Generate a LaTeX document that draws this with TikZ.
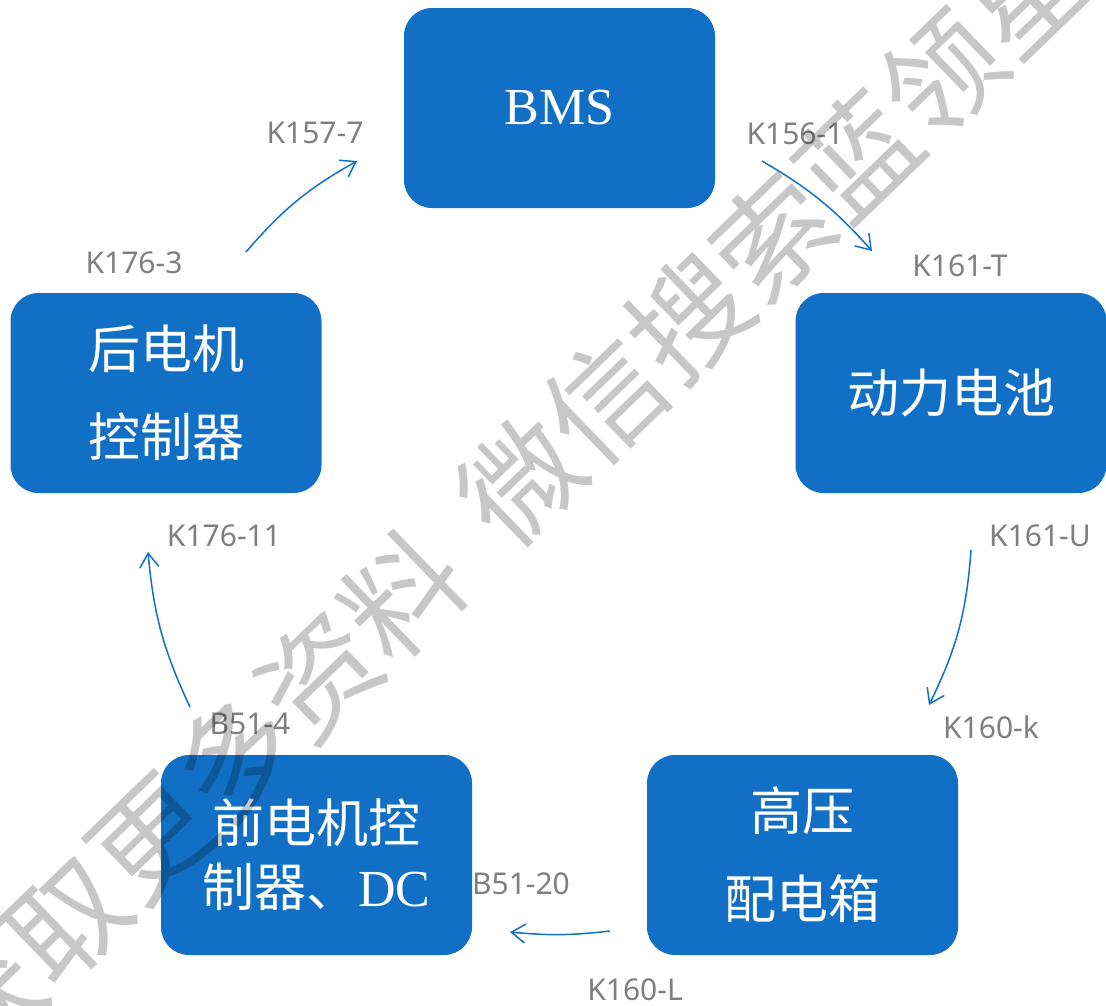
\documentclass[tikz,border=0pt]{standalone}
\usepackage{fontspec}
\setmainfont{Liberation Serif}
\newfontfamily\cjk{Noto Sans CJK SC}
\newfontfamily\labfont{Noto Sans}
\usetikzlibrary{arrows.meta}
\definecolor{boxblue}{RGB}{17,112,197}
\definecolor{labgray}{RGB}{127,127,127}
\tikzset{
  box/.style={fill=boxblue, rounded corners=28pt, minimum width=311pt, minimum height=200pt,
    text=white, align=center, inner sep=0pt, font=\cjk\fontsize{52}{88}\selectfont},
  lbl/.style={text=labgray, inner sep=0pt, font=\labfont\fontsize{30}{36}\selectfont},
  conn/.style={draw=boxblue, line width=1.5pt, -{Straight Barb[length=14pt,width=19pt]}},
  wmark/.style={rotate=44, text=black, text opacity=0.22, inner sep=0pt,
    font=\cjk\fontsize{117}{117}\selectfont}
}
\begin{document}
\begin{tikzpicture}[x=1pt,y=-1pt]
\useasboundingbox (0,0) rectangle (1106,1005);
\fill[white] (0,0) rectangle (1106,1005);
% boxes
\node[box] (bms) at (559.5,108) {{\rmfamily BMS}};
\node[box] (bat) at (951,393) {动力电池};
\node[box] (hv) at (802.5,855) {高压\\配电箱};
\node[box, font=\cjk\fontsize{52}{64}\selectfont] (front) at (316.5,855) {前电机控\\制器、{\rmfamily DC}};
\node[box] (rear) at (166,393) {后电机\\控制器};
% labels
\node[lbl] (l1) at (315,133) {K157-7};
\node[lbl] (l2) at (795,134) {K156-1};
\node[lbl] (l3) at (960,266) {K161-T};
\node[lbl] (l4) at (134,263) {K176-3};
\node[lbl] (l5) at (224,536) {K176-11};
\node[lbl] (l6) at (1040,536) {K161-U};
\node[lbl] (l7) at (991,727) {K160-k};
\node[lbl] (l8) at (250,724) {B51-4};
\node[lbl] (l9) at (521,884) {B51-20};
\node[lbl] (l10) at (635,990) {K160-L};
% connector end points
\coordinate (a1s) at (246,252); \coordinate (a1e) at (357,161);
\coordinate (a2s) at (762,161); \coordinate (a2e) at (872,251);
\coordinate (a3s) at (971,550); \coordinate (a3e) at (929,705);
\coordinate (a4s) at (610,931); \coordinate (a4e) at (510,932);
\coordinate (a5s) at (190,707); \coordinate (a5e) at (148,552);
\draw[conn] (a1s) to[bend left=10] (a1e);
\draw[conn] (a2s) to[bend left=9] (a2e);
\draw[conn] (a3s) to[bend left=11] (a3e);
\draw[conn] (a4s) to[bend left=6] (a4e);
\draw[conn] (a5s) to[bend left=10] (a5e);
% watermark
\begin{scope}
\clip (0,0) rectangle (1106,1005);
\node[wmark] (wm) at (504,497) {获取更多资料\hspace{0.4em}微信搜索蓝领星};
\end{scope}
\end{tikzpicture}
\end{document}
